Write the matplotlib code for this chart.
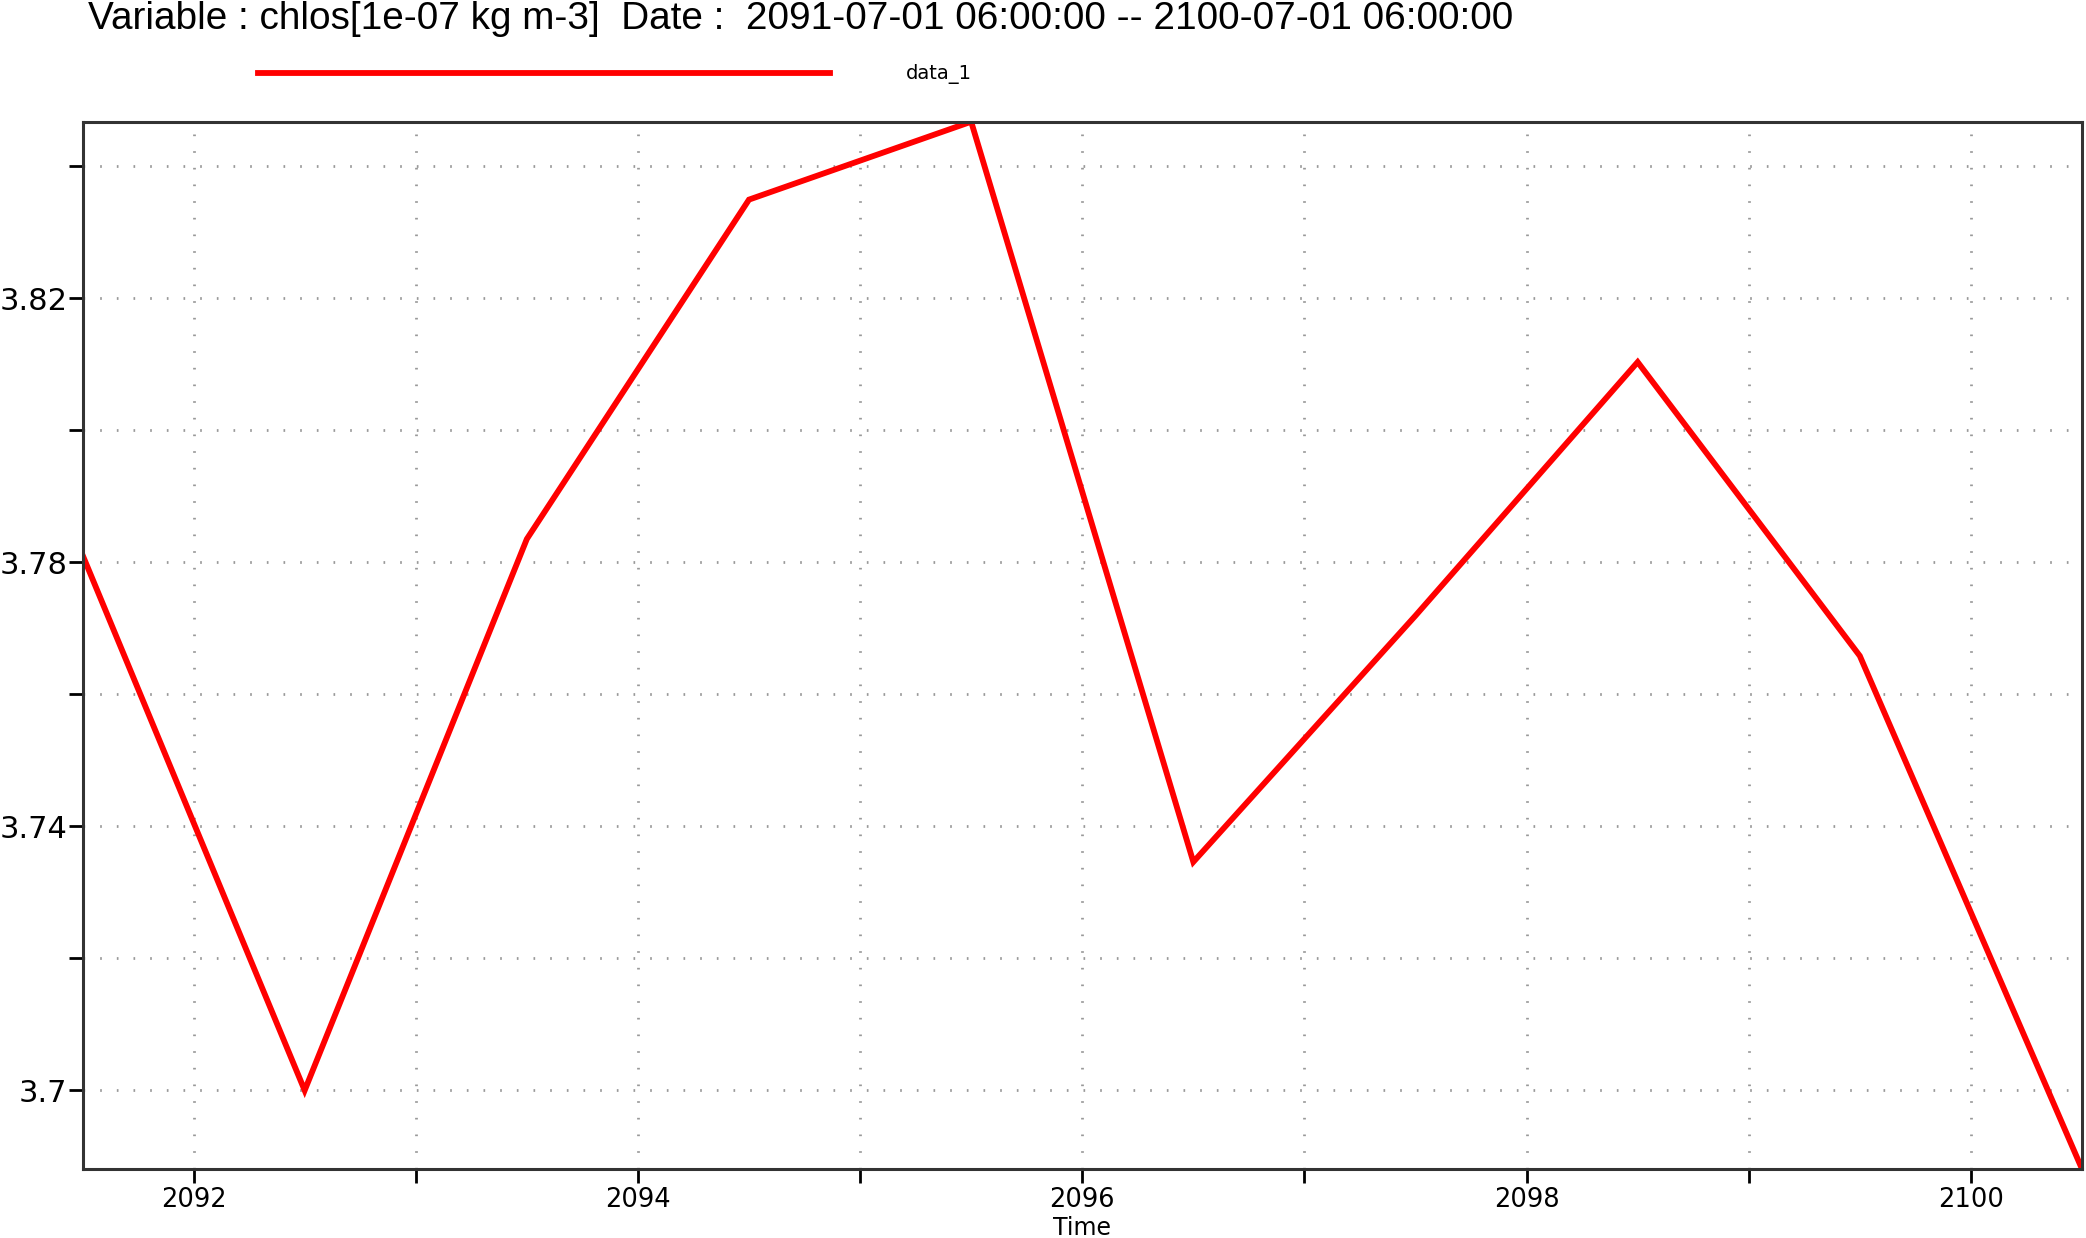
import numpy as np
import matplotlib
matplotlib.use('Agg')
import matplotlib.pyplot as plt
from matplotlib.ticker import MultipleLocator, FormatStrFormatter

# mid-year values, chlos [1e-07 kg m-3]
years = [2091.5, 2092.5, 2093.5, 2094.5, 2095.5, 2096.5, 2097.5, 2098.5, 2099.5, 2100.5]
chlos = [3.7811, 3.7000, 3.7835, 3.8349, 3.8467, 3.7346, 3.7719, 3.8103, 3.7658, 3.6881]

title = 'Variable : chlos[1e-07 kg m-3]  Date :  2091-07-01 06:00:00 -- 2100-07-01 06:00:00'

W, H = 2086, 1238
fig = plt.figure(figsize=(W / 100, H / 100), dpi=100)
ax = fig.add_axes([82.5 / W, 1 - 1169 / H, (2082 - 82.5) / W, (1169 - 121.7) / H])

ax.plot(years, chlos, color='red', lw=4.2, label='data_1', solid_joinstyle='miter')

ax.set_xlim(min(years), max(years))
ax.set_ylim(min(chlos), max(chlos))

ax.xaxis.set_major_locator(MultipleLocator(2))
ax.xaxis.set_minor_locator(MultipleLocator(1))
ax.xaxis.set_major_formatter(FormatStrFormatter('%d'))
ax.yaxis.set_major_locator(MultipleLocator(0.04, offset=0.02))
ax.yaxis.set_minor_locator(MultipleLocator(0.02))
ax.yaxis.set_major_formatter(plt.FuncFormatter(lambda v, p: f'{v:g}'))

grid_kw = dict(color='#999999', lw=2, linestyle=(0, (0.6, 5.4)))
ax.grid(True, which='both', **grid_kw)

for s in ax.spines.values():
    s.set_color('#333333')
    s.set_linewidth(2.2)

ax.tick_params(which='both', direction='out', length=10, width=2, color='black')
ax.tick_params(axis='x', labelsize=18.5, pad=3)
ax.tick_params(axis='y', labelsize=22, pad=1)
ax.set_xlabel('Time', fontsize=17, labelpad=2)

fig.text(88 / W, 1 - 29 / H, title, fontsize=27.9, family='Liberation Sans', va='baseline', ha='left')

fig.legend(loc='center left', bbox_to_anchor=(258 / W, 1 - 74.5 / H), frameon=False,
           fontsize=14, handlelength=29.4, handletextpad=3.9, borderpad=0, borderaxespad=0)

fig.savefig('out.png', dpi=100)
